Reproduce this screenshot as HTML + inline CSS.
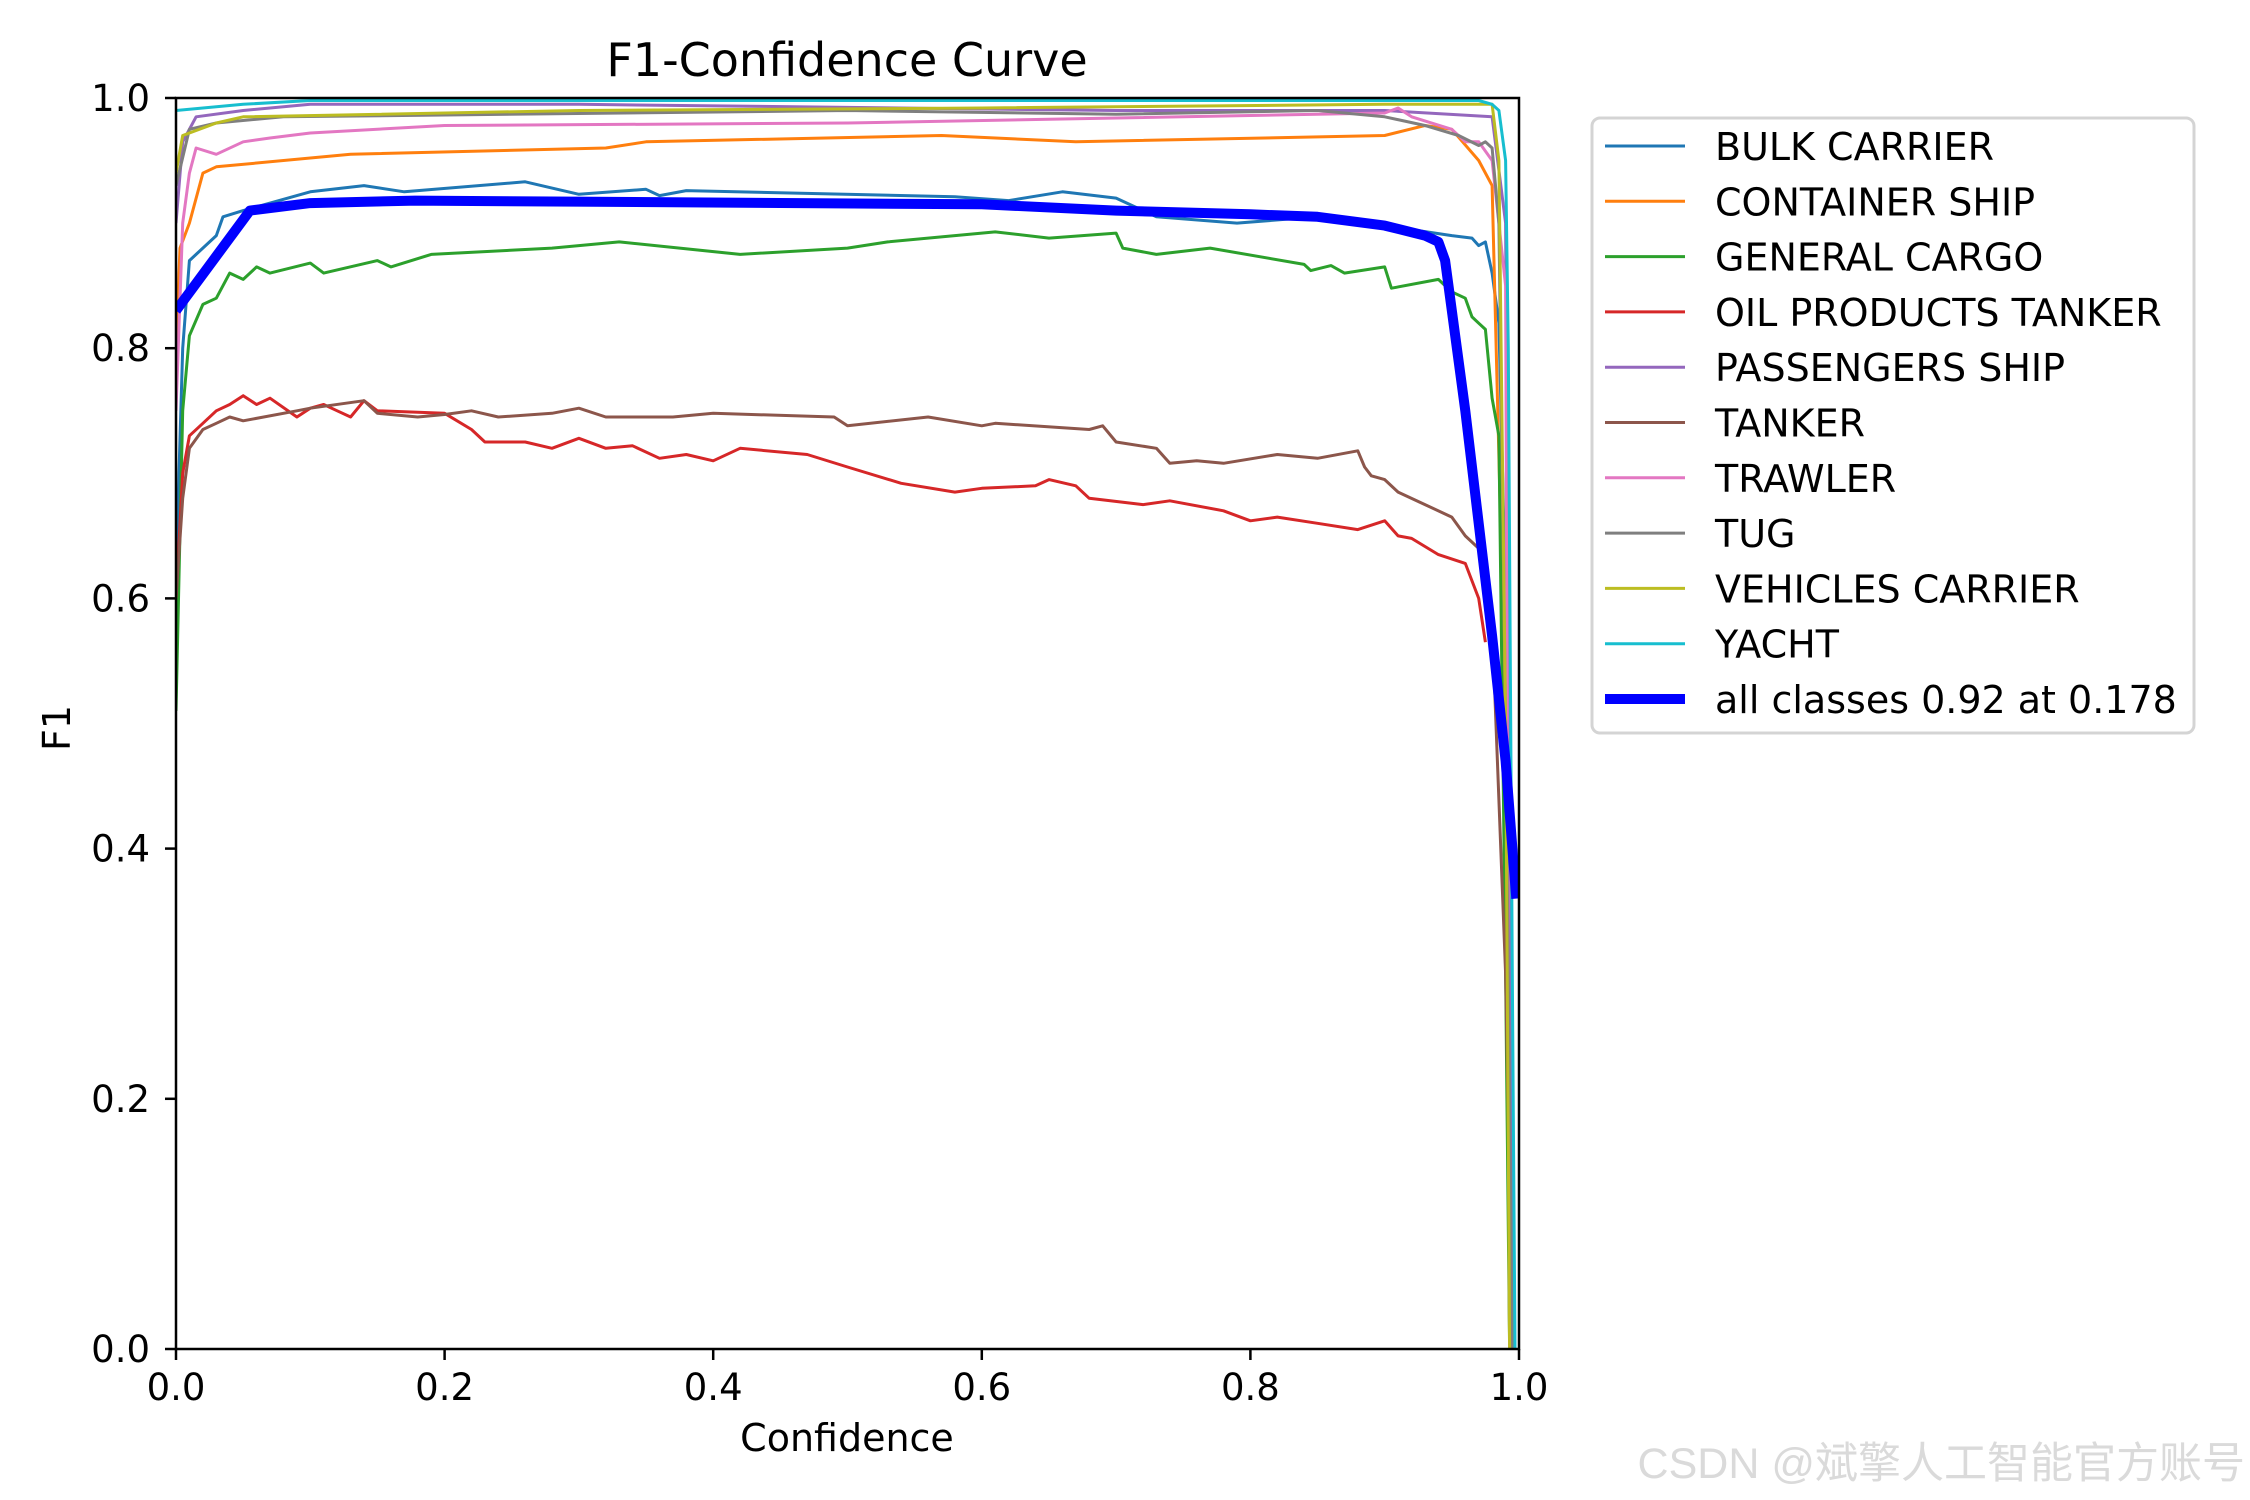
<!DOCTYPE html>
<html><head><meta charset="utf-8"><style>
html,body{margin:0;padding:0;background:#fff;}
svg{display:block;font-family:"DejaVu Sans","Liberation Sans",sans-serif;}
</style></head><body>
<svg id="chart" width="2250" height="1500" viewBox="0 0 2250 1500" xmlns="http://www.w3.org/2000/svg">
<rect width="2250" height="1500" fill="#fff"/>
<text x="847" y="76" font-size="46" text-anchor="middle">F1-Confidence Curve</text>
<g id="plot"></g>
<g id="axes"></g>
<text x="847" y="1451" font-size="38" text-anchor="middle">Confidence</text>
<text transform="translate(70,728) rotate(-90)" font-size="38" text-anchor="middle">F1</text>
<g id="legend"></g>
<text x="2245" y="1478" font-size="43" text-anchor="end" fill="#dadada" font-family="'Liberation Sans','Noto Sans CJK SC',sans-serif">CSDN @斌擎人工智能官方账号</text>
</svg>
<script>
const seriesNames = ["BULK CARRIER","CONTAINER SHIP","GENERAL CARGO","OIL PRODUCTS TANKER","PASSENGERS SHIP","TANKER","TRAWLER","TUG","VEHICLES CARRIER","YACHT"];
const seriesColors = ["#1f77b4","#ff7f0e","#2ca02c","#d62728","#9467bd","#8c564b","#e377c2","#7f7f7f","#bcbd22","#17becf"];
const xTicks = [0,0.2,0.4,0.6,0.8,1.0];
const yTicks = [0,0.2,0.4,0.6,0.8,1.0];
const tickLabels = ["0.0","0.2","0.4","0.6","0.8","1.0"];
const bulkX = [0,0.005,0.01,0.03,0.035,0.05,0.1,0.14,0.17,0.26,0.28,0.3,0.35,0.36,0.38,0.58,0.62,0.66,0.7,0.73,0.79,0.85,0.9,0.95,0.965,0.97,0.975,0.98,0.985,0.99,0.995];
const bulkY = [0.62,0.8,0.87,0.89,0.905,0.91,0.925,0.93,0.925,0.933,0.928,0.923,0.927,0.922,0.926,0.921,0.918,0.925,0.92,0.905,0.9,0.905,0.898,0.89,0.888,0.882,0.885,0.86,0.82,0.6,0];
const containerX = [0,0.003,0.01,0.02,0.03,0.13,0.32,0.35,0.57,0.67,0.9,0.93,0.95,0.97,0.98,0.99,0.993];
const containerY = [0.8,0.88,0.9,0.94,0.945,0.955,0.96,0.965,0.97,0.965,0.97,0.978,0.975,0.95,0.93,0.5,0];
const cargoX = [0,0.005,0.01,0.02,0.03,0.04,0.05,0.06,0.07,0.1,0.11,0.15,0.16,0.19,0.28,0.33,0.42,0.5,0.53,0.61,0.65,0.7,0.705,0.73,0.77,0.84,0.845,0.86,0.87,0.9,0.905,0.94,0.945,0.95,0.96,0.965,0.97,0.975,0.98,0.985,0.99,0.993];
const cargoY = [0.51,0.75,0.81,0.835,0.84,0.86,0.855,0.865,0.86,0.868,0.86,0.87,0.865,0.875,0.88,0.885,0.875,0.88,0.885,0.893,0.888,0.892,0.88,0.875,0.88,0.867,0.862,0.866,0.86,0.865,0.848,0.855,0.85,0.845,0.84,0.825,0.82,0.815,0.76,0.73,0.3,0];
const oilX = [0,0.005,0.01,0.02,0.03,0.04,0.05,0.06,0.07,0.09,0.1,0.11,0.12,0.13,0.14,0.15,0.2,0.22,0.23,0.26,0.28,0.3,0.32,0.34,0.36,0.38,0.4,0.42,0.47,0.5,0.54,0.58,0.6,0.64,0.65,0.67,0.68,0.72,0.74,0.78,0.8,0.82,0.85,0.88,0.9,0.91,0.92,0.94,0.96,0.97,0.975];
const oilY = [0.6,0.7,0.73,0.74,0.75,0.755,0.762,0.755,0.76,0.745,0.752,0.755,0.75,0.745,0.758,0.75,0.748,0.735,0.725,0.725,0.72,0.728,0.72,0.722,0.712,0.715,0.71,0.72,0.715,0.705,0.692,0.685,0.688,0.69,0.695,0.69,0.68,0.675,0.678,0.67,0.662,0.665,0.66,0.655,0.662,0.65,0.648,0.635,0.628,0.6,0.565];
const passX = [0,0.005,0.015,0.05,0.1,0.3,0.7,0.9,0.98,0.99,0.995];
const passY = [0.9,0.965,0.985,0.99,0.995,0.995,0.99,0.99,0.985,0.9,0];
const tankerX = [0,0.005,0.01,0.02,0.03,0.04,0.05,0.09,0.1,0.14,0.15,0.18,0.2,0.22,0.24,0.28,0.3,0.32,0.37,0.4,0.49,0.5,0.56,0.6,0.61,0.68,0.69,0.7,0.73,0.74,0.76,0.78,0.82,0.85,0.88,0.885,0.89,0.9,0.91,0.93,0.95,0.96,0.97,0.98,0.99,0.995];
const tankerY = [0.6,0.68,0.72,0.735,0.74,0.745,0.742,0.75,0.752,0.758,0.748,0.745,0.747,0.75,0.745,0.748,0.752,0.745,0.745,0.748,0.745,0.738,0.745,0.738,0.74,0.735,0.738,0.725,0.72,0.708,0.71,0.708,0.715,0.712,0.718,0.705,0.698,0.695,0.685,0.675,0.665,0.65,0.64,0.58,0.3,0];
const trawlerX = [0,0.005,0.01,0.015,0.03,0.05,0.07,0.1,0.2,0.5,0.65,0.9,0.91,0.92,0.95,0.96,0.97,0.98,0.99,0.993];
const trawlerY = [0.75,0.9,0.94,0.96,0.955,0.965,0.968,0.972,0.978,0.98,0.983,0.988,0.992,0.985,0.975,0.965,0.965,0.95,0.85,0];
const tugX = [0,0.01,0.03,0.08,0.5,0.7,0.85,0.9,0.93,0.955,0.97,0.975,0.98,0.985,0.99,0.995];
const tugY = [0.93,0.975,0.98,0.985,0.99,0.987,0.99,0.985,0.978,0.97,0.962,0.965,0.96,0.9,0.5,0];
const vehX = [0,0.005,0.03,0.05,0.3,0.6,0.9,0.98,0.985,0.99,0.993];
const vehY = [0.94,0.97,0.98,0.985,0.99,0.992,0.995,0.995,0.95,0.5,0];
const yachtX = [0,0.05,0.1,0.4,0.97,0.98,0.985,0.99,0.992,0.995,0.997];
const yachtY = [0.99,0.995,0.998,0.998,0.998,0.995,0.99,0.95,0.8,0.3,0];
const allX = [0,0.055,0.1,0.178,0.6,0.7,0.8,0.85,0.9,0.93,0.94,0.945,0.96,0.98,0.99,0.998];
const allY = [0.83,0.91,0.916,0.918,0.915,0.91,0.907,0.905,0.898,0.89,0.885,0.87,0.75,0.57,0.47,0.36];

const L=176,R=1519,T=98,B=1349;
const xs = v => L + v*(R-L);
const ys = v => B - v*(B-T);
const NS="http://www.w3.org/2000/svg";
function mk(tag, attrs, parent){const e=document.createElementNS(NS,tag);for(const k in attrs)e.setAttribute(k,attrs[k]);parent.appendChild(e);return e;}
const plot=document.getElementById('plot'), axes=document.getElementById('axes'), legend=document.getElementById('legend');
mk('clipPath',{id:'clip'},plot);
mk('rect',{x:L,y:T,width:R-L,height:B-T},document.getElementById('clip'));
const allSeries=[[bulkX,bulkY],[containerX,containerY],[cargoX,cargoY],[oilX,oilY],[passX,passY],[tankerX,tankerY],[trawlerX,trawlerY],[tugX,tugY],[vehX,vehY],[yachtX,yachtY]];
allSeries.forEach((s,i)=>{
  const d=s[0].map((x,j)=>(j?'L':'M')+xs(x).toFixed(1)+','+ys(s[1][j]).toFixed(1)).join('');
  const p=mk('path',{d:d,fill:'none',stroke:seriesColors[i],'stroke-width':3,'stroke-linejoin':'round','clip-path':'url(#clip)'},plot);
  
  
});
{
  const d=allX.map((x,j)=>(j?'L':'M')+xs(x).toFixed(1)+','+ys(allY[j]).toFixed(1)).join('');
  const p=mk('path',{d:d,fill:'none',stroke:'#0000ff','stroke-width':10,'stroke-linejoin':'round','clip-path':'url(#clip)'},plot);
  
  
}
const fr=mk('rect',{x:L,y:T,width:R-L,height:B-T,fill:'none',stroke:'#000','stroke-width':2.5},axes);


xTicks.forEach((v,i)=>{
  const t=mk('line',{x1:xs(v),x2:xs(v),y1:B,y2:B+11,stroke:'#000','stroke-width':2.5},axes);
  
  
  const l=mk('text',{x:xs(v),y:1400,'font-size':37,'text-anchor':'middle'},axes);
  l.textContent=tickLabels[i];
  
  
});
yTicks.forEach((v,i)=>{
  const t=mk('line',{x1:L-11,x2:L,y1:ys(v),y2:ys(v),stroke:'#000','stroke-width':2.5},axes);
  
  
  const l=mk('text',{x:150,y:ys(v)+13,'font-size':37,'text-anchor':'end'},axes);
  l.textContent=tickLabels[i];
  
  
});
const lb=mk('rect',{x:1592,y:118,width:602,height:615,rx:8,fill:'#fff',stroke:'#d4d4d4','stroke-width':3},legend);


const names=seriesNames.concat(["all classes 0.92 at 0.178"]);
const cols=seriesColors.concat(["#0000ff"]);
names.forEach((n,i)=>{
  const y=146+i*55.3;
  const g=mk('g',{},legend);
  
  
  mk('line',{x1:1605,x2:1685,y1:y,y2:y,stroke:cols[i],'stroke-width':i==10?10:3},g);
  const t=mk('text',{x:1715,y:y+14,'font-size':38},g);
  t.textContent=n;
});
</script>
</body></html>
